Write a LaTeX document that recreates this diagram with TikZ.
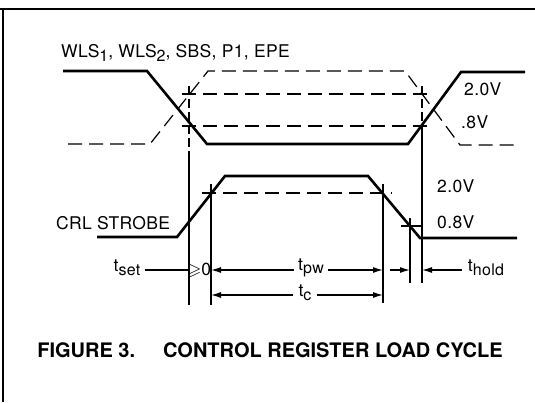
\documentclass[tikz,border=0pt]{standalone}
\usepackage{amssymb}
\usepackage{fontspec}
\setmainfont{TeX Gyre Heros}
\newfontfamily\lblfont[LetterSpace=2]{TeX Gyre Heros}
\usetikzlibrary{arrows.meta}
\newcommand{\lo}[1]{\raisebox{-3.5pt}{\fontsize{16}{16}\selectfont #1}}

\begin{document}
\begin{tikzpicture}[x=1pt,y=-1pt,
    sig/.style={line width=2.6pt, line join=miter},
    refline/.style={line width=1.2pt, dash pattern=on 14pt off 7pt},
    guide/.style={line width=1.2pt},
    dim/.style={line width=1.2pt, -{Latex[length=10pt,width=6pt]}},
    lbl/.style={font=\lblfont\fontsize{17.5}{20}\selectfont, inner sep=0pt}]
  \useasboundingbox (0,0) rectangle (535,402);
  % frame
  \draw[line width=1.2pt] (0,9) -- (535,9);
  \draw[line width=1.2pt] (3,9) -- (3,402);

  % input signals
  \node[lbl, anchor=west] (inlbl) at (61,53) {WLS\lo{1}, WLS\lo{2}, SBS, P1, EPE};
  \draw[sig] (63,71) -- (147,71) -- (207,144) -- (408,144) -- (461,72) -- (525,72);
  \draw[refline] (68,144) -- (150,144) -- (208,71) -- (405,71) -- (460,145) -- (520,145);
  \draw[refline] (182,94) -- (430,94);
  \draw[refline] (182,126) -- (430,126);
  \node[lbl, anchor=west] (hi) at (464,89) {2.0V};
  \node[lbl, anchor=west] (lo) at (461,122) {.8V};

  % strobe
  \node[lbl, anchor=west] (strobe) at (56,223) {CRL STROBE};
  \draw[sig] (97,237) -- (177,237) -- (225,176) -- (368,176) -- (420,238) -- (517,238);
  \draw[refline] (202,193) -- (392,193);
  \draw[guide] (401,226) -- (422,226);
  \node[lbl, anchor=west] (shi) at (437,186) {2.0V};
  \node[lbl, anchor=west] (slo) at (437,222) {0.8V};

  % guide lines
  \draw[guide, dash pattern=on 9pt off 4pt] (189,86) -- (189,160);
  \draw[guide] (189,160) -- (189,305);
  \draw[guide, dash pattern=on 9pt off 4pt] (422,86) -- (422,130);
  \draw[guide] (422,130) -- (422,283);
  \draw[guide] (211,184) -- (211,305);
  \draw[guide] (383,184) -- (383,303);
  \draw[guide] (410,218) -- (410,283);
  \coordinate (setL) at (189,270);
  \coordinate (pwL) at (211,270);
  \coordinate (pwR) at (383,270);
  \coordinate (hdL) at (410,270);
  \coordinate (hdR) at (422,270);
  \coordinate (cL) at (211,295);
  \coordinate (cR) at (383,295);

  % timing labels
  \node[lbl] (tset) at (127,268) {t\lo{set}};
  \node[lbl] (ge) at (199.5,270) {$\geqslant$0};
  \node[lbl] (tpw) at (311,268) {t\lo{pw}};
  \node[lbl] (thold) at (486,268) {t\lo{hold}};
  \node[lbl] (tc) at (305,293) {t\lo{c}};
  \draw[guide] (tset.east) ++(4,2) -- (setL);
  \draw[dim] (tpw.west) ++(-4,2) -- (pwL);
  \draw[dim] (tpw.east) ++(4,2) -- (pwR);
  \draw[dim] (390,270) -- (hdL);
  \draw[dim] (thold.west) ++(-6,2) -- (hdR);
  \draw[dim] (tc.west) ++(-5,2) -- (cL);
  \draw[dim] (tc.east) ++(5,2) -- (cR);

  % caption
  \node[font=\fontsize{20}{24}\selectfont\bfseries] (cap) at (270,350)
    {FIGURE 3.\hspace{28pt}CONTROL REGISTER LOAD CYCLE};
\end{tikzpicture}
\end{document}
